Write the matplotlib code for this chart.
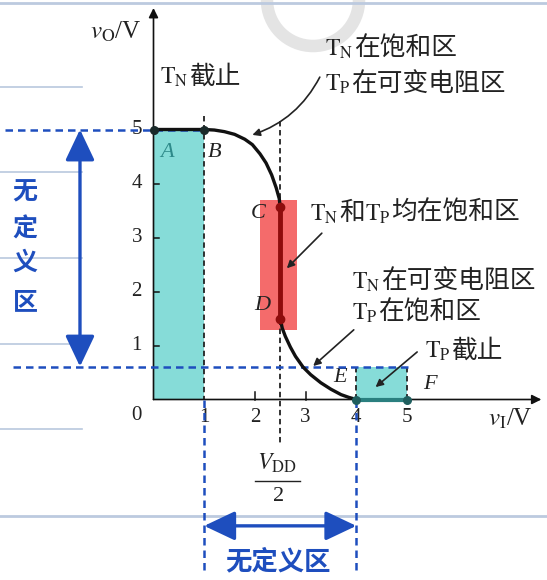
import numpy as np
import matplotlib.pyplot as plt
from matplotlib.patches import Rectangle, Circle

plt.rcParams['font.family'] = ['Liberation Serif', 'Noto Sans CJK SC']
plt.rcParams['mathtext.fontset'] = 'stix'

# 传输特性曲线（上段 B→C，下段 D→E）
vI_up = [0, 1, 1.2, 1.4, 1.6, 1.8, 1.95, 2.1, 2.22, 2.33, 2.42, 2.48, 2.5]
vO_up = [5, 5, 4.99, 4.96, 4.91, 4.82, 4.72, 4.55, 4.38, 4.16, 3.92, 3.72, 3.56]
vI_low = [2.5, 2.54, 2.6, 2.7, 2.8, 2.95, 3.1, 3.3, 3.5, 3.7, 3.85, 4.0]
vO_low = [1.49, 1.32, 1.17, 0.97, 0.80, 0.60, 0.46, 0.31, 0.19, 0.09, 0.04, 0.0]

# 特征点
pt_names = ['A', 'B', 'C', 'D', 'E', 'F']
pt_x = [0, 1, 2.5, 2.5, 4, 5]
pt_y = [5, 5, 3.56, 1.49, 0, 0]

ticks = [1, 2, 3, 4, 5]
V_OL_MAX = 0.61   # 低电平边界
V_DD = 5

BLUE = '#1E4EBE'
CYAN = '#86DCD8'
TXT = '#222222'

fig = plt.figure(figsize=(5.47, 5.80), dpi=100)

# 背景（幻灯片线条）
bg = fig.add_axes([0, 0, 1, 1], zorder=0)
bg.set_xlim(0, 547)
bg.set_ylim(580, 0)
bg.axis('off')
for yy in [87, 172, 258, 344, 429]:
    bg.plot([0, 82], [yy, yy], color='#B9C8DE', lw=1.2)
for yy in [3, 516]:
    bg.plot([0, 547], [yy, yy], color='#BCCADF', lw=2)
bg.add_patch(Circle((313, 0), 46, fill=False, ec='#E4E4E4', lw=9))

ax = fig.add_axes([0, 0, 1, 1], zorder=1)
ax.set_xlim(-153.5 / 50.7, (547 - 153.5) / 50.7)
ax.set_ylim((399.5 - 580) / 54, 399.5 / 54)
ax.axis('off')


def label(x, y, parts, fs=18.5, fs_math=17):
    """parts: 依次排列的 (文本, 是否为公式)"""
    prev = None
    for s, is_math in parts:
        kw = dict(fontsize=fs_math if is_math else fs, color=TXT)
        if not is_math:
            kw['family'] = ['Noto Sans CJK SC']
        if prev is None:
            prev = ax.text(x, y, s, va='baseline', ha='left', **kw)
        else:
            prev = ax.annotate(s, xy=(1, 0), xycoords=prev,
                               xytext=(0.5 if not is_math else 0, 0),
                               textcoords='offset points',
                               va='bottom', ha='left', **kw)
    return prev


# 区域着色
ax.add_patch(Rectangle((0, 0), 1, V_DD, fc=CYAN, ec='none', zorder=1))
ax.add_patch(Rectangle((4, 0), 1, V_OL_MAX, fc=CYAN, ec='none', zorder=1))
ax.add_patch(Rectangle((2.10, 1.29), 0.73, 2.40, fc='#F46B6B', ec='none', zorder=1))

# 坐标轴
arr = dict(arrowstyle='-|>', color='#111111', lw=1.2, mutation_scale=14,
           shrinkA=0, shrinkB=0)
ax.annotate('', xy=(0, 7.25), xytext=(0, 0), arrowprops=arr, zorder=3)
ax.annotate('', xy=(7.65, 0), xytext=(0, 0), arrowprops=arr, zorder=3)
for t in [1, 2, 3, 4]:
    ax.plot([0, 0.1], [t, t], color='#111111', lw=1.1, zorder=3)
for t in [2, 3]:
    ax.plot([t, t], [0, 0.13], color='#111111', lw=1.1, zorder=3)
for t in ticks:
    ax.text(t, -0.34, str(t), fontsize=15, color=TXT, ha='center', va='center')
    ax.text(-0.33, t, str(t), fontsize=15, color=TXT, ha='center', va='center')
ax.text(-0.33, -0.29, '0', fontsize=15, color=TXT, ha='center', va='center')
ax.text(-0.74, 6.8, r'$v_{\mathrm{O}}$/V', fontsize=18, color=TXT, ha='center', va='center')
ax.text(6.6, -0.36, r'$v_{\mathrm{I}}$/V', fontsize=18, color=TXT, ha='left', va='center')

# 黑色虚线
dk = dict(color='#222222', lw=1.3, ls=(0, (3, 2)), zorder=2)
ax.plot([1, 1], [5.25, 0], **dk)
ax.plot([2.5, 2.5], [5.15, -0.84], **dk)
ax.plot([4, 4], [V_OL_MAX, 0], **dk)
ax.plot([5, 5], [V_OL_MAX, 0], **dk)

# 曲线
ax.plot(vI_up, vO_up, color='#111111', lw=2.4, zorder=4, solid_capstyle='round')
ax.plot(vI_low, vO_low, color='#111111', lw=2.4, zorder=4, solid_capstyle='round')
ax.plot([pt_x[2], pt_x[3]], [pt_y[2], pt_y[3]], color='#8E0C0C', lw=3.5, zorder=4)
ax.plot([4, 5], [0, 0], color='#2A7F7F', lw=3, zorder=4)
ax.scatter(pt_x[:2], pt_y[:2], s=30, color='#1A2A2A', zorder=5)
ax.scatter(pt_x[2:4], pt_y[2:4], s=36, color='#8E0C0C', zorder=5)
ax.scatter(pt_x[4:], pt_y[4:], s=30, color='#1F5E5E', zorder=5)

# 点标记
lab_pos = [(0.27, 4.58), (1.21, 4.58), (2.06, 3.45), (2.14, 1.75), (3.68, 0.40), (5.45, 0.27)]
lab_col = ['#2E8A8A', TXT, TXT, TXT, TXT, TXT]
for n, (lx, ly), c in zip(pt_names, lab_pos, lab_col):
    ax.text(lx, ly, n, fontsize=16, style='italic', color=c, ha='center', va='center')

# 工作区说明
TN = (r'$\mathrm{T_N}$', True)
TP = (r'$\mathrm{T_P}$', True)
label(0.13, 5.84, [TN, ('截止', False)])
label(3.38, 6.36, [TN, ('在饱和区', False)])
label(3.38, 5.71, [TP, ('在可变电阻区', False)])
label(3.09, 3.32, [TN, ('和', False), TP, ('均在饱和区', False)])
label(3.91, 2.06, [TN, ('在可变电阻区', False)])
label(3.91, 1.47, [TP, ('在饱和区', False)])
label(5.35, 0.77, [TP, ('截止', False)])

pt = dict(arrowstyle='-|>', color='#222222', lw=1.2, mutation_scale=11,
          shrinkA=0, shrinkB=0)
ax.annotate('', xy=(1.95, 4.90), xytext=(3.28, 5.97),
            arrowprops=dict(pt, connectionstyle='arc3,rad=-0.2'))
ax.annotate('', xy=(2.63, 2.43), xytext=(3.32, 3.08), arrowprops=pt)
ax.annotate('', xy=(3.15, 0.62), xytext=(3.95, 1.29), arrowprops=pt)
ax.annotate('', xy=(4.38, 0.23), xytext=(5.20, 0.88), arrowprops=pt)

# V_DD/2
ax.text(2.44, -1.18, r'$V_{\mathrm{DD}}$', fontsize=17, color=TXT, ha='center', va='center')
ax.plot([2.0, 2.89], [-1.51, -1.51], color=TXT, lw=1.0)
ax.text(2.46, -1.80, '2', fontsize=16, color=TXT, ha='center', va='center')

# 无定义区标注
bd = dict(color=BLUE, lw=1.8, ls=(0, (3, 2)), zorder=3)
ax.plot([-2.93, 1], [V_DD, V_DD], **bd)
ax.plot([-2.77, 5.05], [V_OL_MAX, V_OL_MAX], **bd)
ax.plot([1, 1], [0, -3.25], **bd)
ax.plot([4, 4], [0, -3.25], **bd)

ba = dict(arrowstyle='<|-|>,head_length=0.95,head_width=0.45', color=BLUE,
          lw=2.4, mutation_scale=20, shrinkA=0, shrinkB=0)
ax.annotate('', xy=(-1.45, V_DD), xytext=(-1.45, V_OL_MAX), arrowprops=ba, zorder=4)
ax.annotate('', xy=(1, -2.34), xytext=(4, -2.34), arrowprops=ba, zorder=4)

for ch, cy in zip('无定义区', [3.84, 3.14, 2.53, 1.81]):
    ax.text(-2.53, cy, ch, fontsize=18, color=BLUE, fontweight='bold',
            family='Noto Sans CJK SC', ha='center', va='center')
ax.text(2.45, -3.01, '无定义区', fontsize=19, color=BLUE, fontweight='bold',
        family='Noto Sans CJK SC', ha='center', va='center')

fig.savefig('out.png', dpi=100)
